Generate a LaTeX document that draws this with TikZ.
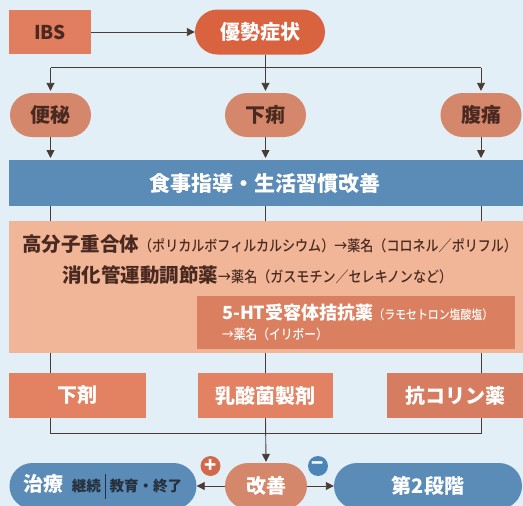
\documentclass[tikz,border=0pt]{standalone}
\usepackage{fontspec}
\setmainfont{Noto Sans CJK JP}
\newfontfamily\jpc[FakeStretch=0.87,UprightFont={* Medium}]{Noto Sans CJK JP}
\usetikzlibrary{shapes.misc,arrows.meta}
\definecolor{bg}{HTML}{E2EFF7}
\definecolor{ibsc}{HTML}{E17E5F}
\definecolor{domc}{HTML}{D9633F}
\definecolor{symc}{HTML}{D4876B}
\definecolor{bluec}{HTML}{5B8BB7}
\definecolor{peachc}{HTML}{F1B698}
\definecolor{htc}{HTML}{DA8060}
\definecolor{boxc}{HTML}{E38262}
\definecolor{boxd}{HTML}{D67C60}
\definecolor{plusc}{HTML}{D2694B}
\definecolor{minusc}{HTML}{4C86B9}
\definecolor{linec}{HTML}{4A3B36}
\definecolor{dkc}{HTML}{4A2A20}
\definecolor{navyc}{HTML}{26303D}
\newcommand{\fs}[1]{\fontsize{#1}{#1}\selectfont}
\begin{document}
\begin{tikzpicture}[x=1pt,y=-1pt,
  rbox/.style={rectangle, inner sep=0pt},
  pill/.style={rounded rectangle, inner sep=0pt},
  conn/.style={draw=linec, line width=0.9pt},
  arr/.style={conn, -{Triangle[length=8pt,width=8pt]}},
  badge/.style={circle, inner sep=0pt, minimum size=20pt, text=white, font=\fs{20}\bfseries}
]
\useasboundingbox (0,0) rectangle (523,506);
\fill[bg] (0,0) rectangle (523,506);

% top
\node[rbox, fill=ibsc, minimum width=82pt, minimum height=44pt, text=dkc, font=\fs{19}\bfseries] (ibs) at (50,32) {IBS};
\node[pill, fill=domc, minimum width=130pt, minimum height=45pt, text=white, font=\fs{20}\bfseries] (dom) at (260,32) {優勢症状};

\node[pill, fill=symc, minimum width=81pt, minimum height=44pt, text=dkc, font=\fs{20}\bfseries] (p1) at (50.5,115) {便秘};
\node[pill, fill=symc, minimum width=81pt, minimum height=44pt, text=dkc, font=\fs{20}\bfseries] (p2) at (265.5,115) {下痢};
\node[pill, fill=symc, minimum width=81pt, minimum height=44pt, text=dkc, font=\fs{20}\bfseries] (p3) at (481,115) {腹痛};

\draw[arr] (ibs) -- (dom.west);
\coordinate (j1) at (265.5,67.5);
\draw[conn] (dom.south -| j1) -- (j1);
\draw[conn] (p1.north |- j1) -- (p3.north |- j1);
\draw[arr] (p1.north |- j1) -- ([yshift=2pt]p1.north);
\draw[arr] (j1) -- ([yshift=2pt]p2.north);
\draw[arr] (p3.north |- j1) -- ([yshift=2pt]p3.north);

% band
\node[rbox, fill=bluec, minimum width=514pt, minimum height=46pt, anchor=north west] (band) at (9,160) {};
\node[text=white, font=\fs{21}\bfseries, inner sep=0pt] (bandt) at (265,184) {食事指導・生活習慣改善};
\draw[arr] (p1.south) -- ([yshift=2pt]p1.south |- band.north);
\draw[arr] (p2.south) -- ([yshift=2pt]p2.south |- band.north);
\draw[arr] (p3.south) -- ([yshift=2pt]p3.south |- band.north);

% peach
\node[rbox, fill=peachc, minimum width=514pt, minimum height=132pt, anchor=north west] (peach) at (9,221) {};
\draw[conn] (p1.south |- band.south) -- (p1.south |- peach.north);
\draw[conn] (p2.south |- band.south) -- (p2.south |- peach.north);
\draw[conn] (p3.south |- band.south) -- (p3.south |- peach.north);

\node[anchor=west, inner sep=0pt, text=dkc] (l1) at (22,244)
  {{\fs{19.5}\bfseries 高分子重合体}{\jpc\fs{15}（ポリカルボフィルカルシウム）→薬名（コロネル／ポリフル）}};
\node[anchor=west, inner sep=0pt, text=dkc] (l2) at (62,275)
  {{\fs{19.5}\bfseries 消化管運動調節薬}{\jpc\fs{15}→薬名（ガスモチン／セレキノンなど）}};

\node[rbox, fill=htc, minimum width=318pt, minimum height=53pt, anchor=north west] (ht) at (197,296) {};
\node[anchor=west, inner sep=0pt, text=white] (h1) at (222,313)
  {{\fs{18}\bfseries 5-HT受容体拮抗薬}{\jpc\fs{12.5}（ラモセトロン塩酸塩）}};
\node[anchor=west, inner sep=0pt, text=white] (h2) at (222,334)
  {{\jpc\fs{13.5}→薬名（イリボー）}};

% bottom boxes
\node[rbox, fill=boxc, minimum width=137pt, minimum height=45pt, text=white, font=\fs{20}\bfseries] (b1) at (77,395.5) {下剤};
\node[rbox, fill=boxc, minimum width=135pt, minimum height=45pt, text=white, font=\fs{20}\bfseries] (b2) at (265.5,395.5) {乳酸菌製剤};
\node[rbox, fill=boxd, minimum width=136pt, minimum height=45pt, text=white, font=\fs{20}\bfseries] (b3) at (455,395.5) {抗コリン薬};

\draw[conn] (p1.south |- peach.south) -- (p1.south |- b1.north);
\draw[conn] (p2.south |- peach.south) -- (p2.south |- b2.north);
\draw[conn] (p3.south |- peach.south) -- (p3.south |- b3.north);

\coordinate (j2) at (265.5,433);
\draw[conn] (p1.south |- b1.south) -- (p1.south |- j2) -- (p3.south |- j2) -- (p3.south |- b3.south);

% result row
\node[pill, fill=symc, minimum width=82pt, minimum height=46pt, text=white, font=\fs{20}\bfseries] (kai) at (266,486) {改善};
\node[pill, fill=bluec, minimum width=187pt, minimum height=46pt] (chi) at (103,486)
  {{\fs{20}\bfseries\color{white}治療}\hspace{8pt}{\fs{14.5}\bfseries\color{navyc}継続\hspace{4pt}{\color{navyc}\rule[-7pt]{0.8pt}{25pt}}\hspace{4pt}教育・終了}};
\node[pill, fill=bluec, minimum width=188pt, minimum height=46pt, text=white, font=\fs{20}\bfseries] (sec) at (428,486) {第2段階};

\draw[arr] (p2.south |- b2.south) -- ([yshift=1pt]kai.north);
\draw[arr] (kai.west) -- (chi.east);
\draw[arr] (kai.east) -- (sec.west);

\node[badge, fill=plusc] (plus) at (210.5,466) {+};
\node[badge, fill=minusc] (minus) at (318,466) {−};
\end{tikzpicture}
\end{document}
